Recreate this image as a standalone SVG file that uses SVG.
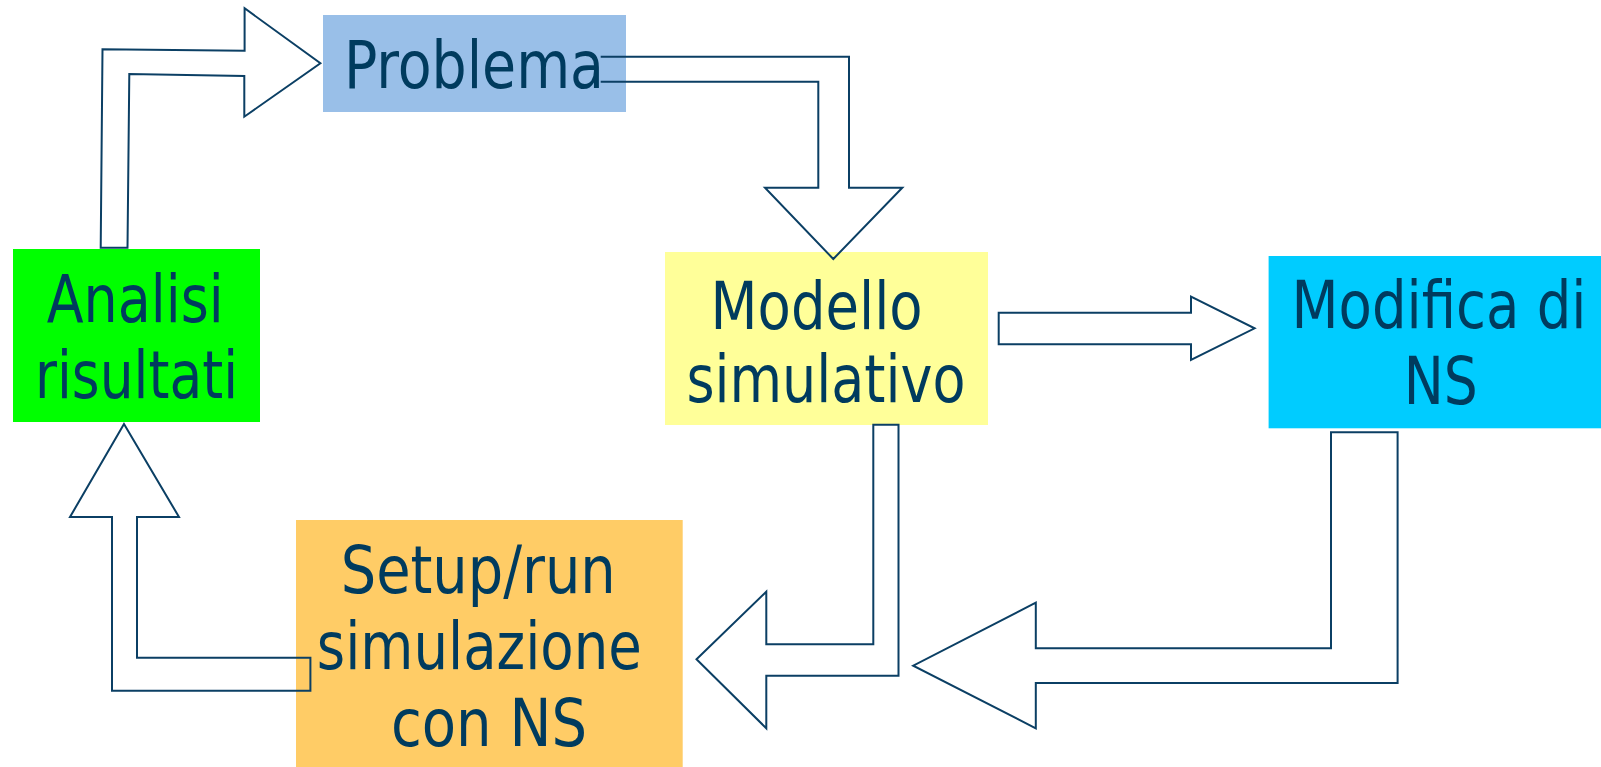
<svg xmlns="http://www.w3.org/2000/svg" width="1601" height="767" viewBox="0 0 1601 767">
<style>
.lbl{font-family:"DejaVu Sans Condensed","DejaVu Sans","Liberation Sans",sans-serif;font-size:66px;fill:#003b5e}
.arr{fill:none;stroke:#0b3f64;stroke-width:2;stroke-linejoin:miter}
</style>
<rect width="1601" height="767" fill="#ffffff"/>
<g id="problema">
<rect x="323" y="15" width="303" height="97" fill="#99bfe8"/>
<text class="lbl" x="344" y="88" textLength="260" lengthAdjust="spacingAndGlyphs">Problema</text>
</g>
<g id="analisi">
<rect x="13" y="249" width="247" height="173" fill="#00ff00"/>
<text class="lbl" x="46.7" y="321.7" textLength="177" lengthAdjust="spacingAndGlyphs">Analisi</text>
<text class="lbl" x="35" y="397.7" textLength="203" lengthAdjust="spacingAndGlyphs">risultati</text>
</g>
<g id="modello">
<rect x="665" y="252" width="323" height="173" fill="#ffff99"/>
<text class="lbl" x="710.6" y="329.3" textLength="212" lengthAdjust="spacingAndGlyphs">Modello</text>
<text class="lbl" x="686.4" y="401.7" textLength="279" lengthAdjust="spacingAndGlyphs">simulativo</text>
</g>
<g id="modifica">
<rect x="1268.6" y="256" width="332.4" height="172.3" fill="#00ccff"/>
<text class="lbl" transform="translate(1291.6,328.3) scale(0.88,1)" x="0" y="0" textLength="335" lengthAdjust="spacingAndGlyphs">Modifica di</text>
<text class="lbl" x="1403.8" y="404.3" textLength="74" lengthAdjust="spacingAndGlyphs">NS</text>
</g>
<g id="setup">
<rect x="296" y="520" width="386.7" height="247" fill="#ffcc66"/>
<text class="lbl" x="340.7" y="593.3" textLength="275" lengthAdjust="spacingAndGlyphs">Setup/run</text>
<text class="lbl" x="316.8" y="669.3" textLength="325" lengthAdjust="spacingAndGlyphs">simulazione</text>
<text class="lbl" x="391" y="746" textLength="196" lengthAdjust="spacingAndGlyphs">con NS</text>
</g>
<g id="connectors">
<polygon class="arr" points="100.7,247.7 102.5,49.3 244.6,50.7 244.6,8.3 320.4,63.3 244.3,116.7 244.3,76 129.3,74 127.5,247.7"/>
<path class="arr" d="M600.7,56.7 L849,56.7 L849,187.7 L902.3,187.7 L833.3,259 L765,187.7 L818.3,187.7 L818.3,81.7 L600.7,81.7"/>
<polygon class="arr" points="998.7,312.7 1191,312.7 1191,296.7 1254.6,328.3 1191,360 1191,344.3 998.7,344.3"/>
<polygon class="arr" points="898.5,424.7 873.3,424.7 873.3,644.3 766.3,644.3 766.3,591.7 696.5,659.3 766.3,728.3 766.3,675.7 898.5,675.7"/>
<polygon class="arr" points="1397.6,432.3 1331,432.3 1331,648.3 1035.8,648.3 1035.8,602.7 913.2,665.7 1035.8,728.3 1035.8,683 1397.6,683"/>
<polygon class="arr" points="124,424 179,517 137,517 137,657.7 310.4,657.7 310.4,690.7 112,690.7 112,517 70,517"/>
</g>
</svg>
